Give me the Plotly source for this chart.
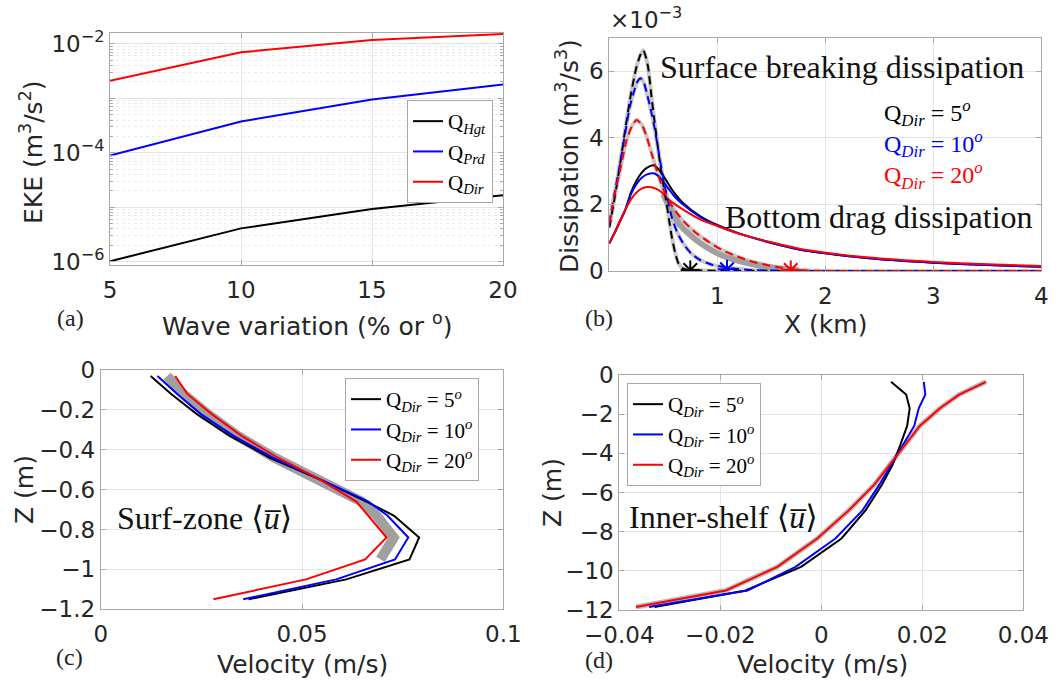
import plotly.graph_objects as go

W, H = 1060, 681

# ---------------- (a) EKE vs wave variation ----------------
wave_var = [5, 10, 15, 20]
eke_hgt = [1.02e-6, 4.1e-6, 9.3e-6, 1.66e-5]
eke_prd = [8.9e-5, 3.76e-4, 9.5e-4, 1.8e-3]
eke_dir = [2.1e-3, 7.0e-3, 1.18e-2, 1.52e-2]

# ---------------- (b) dissipation across shore (units of 1e-3 m^3/s^3) ----------------
# surface breaking dissipation (dashed)
xb_brk5 = [0, 0.05, 0.1, 0.15, 0.2, 0.25, 0.29, 0.315, 0.34, 0.36, 0.39, 0.42, 0.47, 0.5,
           0.53, 0.56, 0.58, 0.61, 0.64, 0.68, 0.72, 0.8, 1.0, 2.0, 3.0, 4.0]
db_brk5 = [1.3, 2.2, 3.2, 4.3, 5.3, 6.1, 6.5, 6.62, 6.4, 6.1, 5.25, 4.45, 3.23, 2.6,
           2.03, 1.4, 1.0, 0.55, 0.23, 0.08, 0.04, 0.02, 0.01, 0.0, 0.0, 0.0]
xb_brk10 = [0, 0.05, 0.1, 0.15, 0.19, 0.23, 0.26, 0.29, 0.32, 0.35, 0.38, 0.41, 0.44, 0.485,
            0.53, 0.58, 0.63, 0.69, 0.76, 0.84, 0.95, 1.09, 1.3, 1.6, 2.0, 3.0, 4.0]
db_brk10 = [1.43, 2.35, 3.23, 4.2, 4.93, 5.4, 5.68, 5.78, 5.65, 5.3, 4.9, 4.45, 3.9, 3.03,
            2.3, 1.6, 1.15, 0.8, 0.52, 0.33, 0.19, 0.1, 0.03, 0.01, 0.0, 0.0, 0.0]
xb_brk20 = [0, 0.05, 0.1, 0.16, 0.21, 0.253, 0.3, 0.346, 0.39, 0.438, 0.48, 0.531, 0.6, 0.685,
            0.8, 0.93, 1.05, 1.15, 1.3, 1.43, 1.55, 1.7, 1.9, 2.2, 3.0, 4.0]
db_brk20 = [1.43, 2.3, 3.03, 3.93, 4.35, 4.53, 4.4, 4.03, 3.55, 3.03, 2.62, 2.23, 1.85, 1.5,
            1.15, 0.85, 0.62, 0.48, 0.3, 0.2, 0.12, 0.05, 0.01, 0.0, 0.0, 0.0]
# spread of the breaking dissipation for the 20 deg case
xb_spread = [0.5, 0.55, 0.65, 0.75, 0.85, 0.95, 1.05, 1.15, 1.3, 1.45, 1.6, 1.75]
db_spread = [2.3, 1.95, 1.4, 1.08, 0.82, 0.62, 0.46, 0.35, 0.22, 0.13, 0.07, 0.03]

# bottom drag dissipation (solid)
xb_drag = [0, 0.05, 0.1, 0.15, 0.2, 0.25, 0.3, 0.35, 0.41, 0.47, 0.53, 0.6, 0.68, 0.84,
           1.0, 1.2, 1.5, 1.77, 2.0, 2.38, 3.0, 3.5, 4.0]
db_drag5 = [0.83, 1.15, 1.5, 1.85, 2.35, 2.7, 2.95, 3.1, 3.17, 3.0, 2.7, 2.35, 2.05, 1.65,
            1.38, 1.13, 0.85, 0.64, 0.53, 0.39, 0.25, 0.18, 0.13]
db_drag10 = [0.83, 1.15, 1.5, 1.85, 2.3, 2.6, 2.8, 2.9, 2.93, 2.8, 2.55, 2.25, 2.0, 1.62,
             1.36, 1.12, 0.84, 0.64, 0.53, 0.39, 0.25, 0.18, 0.13]
db_drag20 = [0.83, 1.15, 1.5, 1.85, 2.15, 2.35, 2.47, 2.52, 2.5, 2.4, 2.2, 2.02, 1.85, 1.55,
             1.35, 1.12, 0.86, 0.66, 0.55, 0.41, 0.27, 0.2, 0.15]

# edge of the surf zone for each case
xb_edge = [0.75, 1.09, 1.68]
db_edge = [0.03, 0.05, 0.03]

# ---------------- (c) surf-zone mean velocity profiles ----------------
zc = [-0.03, -0.12, -0.22, -0.33, -0.44, -0.55, -0.66, -0.73, -0.84, -0.95, -1.05, -1.15]
uc_5 = [0.0124, 0.0175, 0.0238, 0.0320, 0.0420, 0.0545, 0.0660, 0.0728, 0.0791, 0.0767, 0.0610, 0.0367]
uc_10 = [0.0141, 0.0190, 0.0248, 0.0330, 0.0428, 0.0548, 0.0665, 0.0712, 0.0764, 0.0731, 0.0585, 0.0354]
uc_20 = [0.0185, 0.0215, 0.0275, 0.0350, 0.0440, 0.0545, 0.0635, 0.0665, 0.0710, 0.0657, 0.0510, 0.0280]
zc_spread = [-0.03, -0.12, -0.22, -0.33, -0.44, -0.55, -0.66, -0.73, -0.84, -0.95]
uc_spread = [0.0165, 0.0205, 0.0265, 0.0340, 0.0432, 0.0545, 0.0648, 0.0685, 0.0728, 0.0695]

# ---------------- (d) inner-shelf mean velocity profiles ----------------
zd = [-0.35, -1.0, -1.7, -2.6, -3.6, -4.6, -5.6, -6.9, -8.35, -9.8, -11.0, -11.85]
ud_5 = [0.0138, 0.0168, 0.0175, 0.0170, 0.0156, 0.0141, 0.0120, 0.0088, 0.0040, -0.0040, -0.0150, -0.0330]
ud_10 = [0.0203, 0.0206, 0.0193, 0.0184, 0.0161, 0.0138, 0.0115, 0.0082, 0.0028, -0.0051, -0.0146, -0.0341]
ud_20 = [0.0326, 0.0273, 0.0235, 0.0195, 0.0165, 0.0135, 0.0105, 0.0055, -0.0008, -0.0087, -0.0189, -0.0367]

BLACK, BLUE, RED, GRAY = "#000000", "#0000ff", "#ff0000", "#a0a0a0"
SANS = "DejaVu Sans"
SERIF = "Liberation Serif, DejaVu Serif, serif"
DIR_NAMES = ["Q<sub><i>Dir</i></sub> = 5<sup><i>o</i></sup>",
             "Q<sub><i>Dir</i></sub> = 10<sup><i>o</i></sup>",
             "Q<sub><i>Dir</i></sub> = 20<sup><i>o</i></sup>"]

fig = go.Figure()

# (a)
for name, vals, col in [("Q<sub><i>Hgt</i></sub>", eke_hgt, BLACK),
                        ("Q<sub><i>Prd</i></sub>", eke_prd, BLUE),
                        ("Q<sub><i>Dir</i></sub>", eke_dir, RED)]:
    fig.add_trace(go.Scatter(x=wave_var, y=vals, mode="lines", name=name,
                             line=dict(color=col, width=2), xaxis="x", yaxis="y",
                             legend="legend"))

# (b) grey underlays
for xs, ys in [(xb_brk5, db_brk5), (xb_brk10, db_brk10), (xb_brk20, db_brk20)]:
    fig.add_trace(go.Scatter(x=xs, y=ys, mode="lines", showlegend=False, hoverinfo="skip",
                             line=dict(color="#c8c8c8", width=4, shape="spline", smoothing=0.6),
                             xaxis="x2", yaxis="y2"))
fig.add_trace(go.Scatter(x=xb_spread, y=db_spread, mode="lines", showlegend=False, hoverinfo="skip",
                         line=dict(color=GRAY, width=6, shape="spline", smoothing=0.6),
                         xaxis="x2", yaxis="y2"))
# (b) bottom drag
for ys, col in [(db_drag5, BLACK), (db_drag10, BLUE), (db_drag20, RED)]:
    fig.add_trace(go.Scatter(x=xb_drag, y=ys, mode="lines", showlegend=False,
                             line=dict(color=col, width=2, shape="spline", smoothing=0.6),
                             xaxis="x2", yaxis="y2"))
# (b) surface breaking
for xs, ys, col in [(xb_brk5, db_brk5, BLACK), (xb_brk10, db_brk10, BLUE), (xb_brk20, db_brk20, RED)]:
    fig.add_trace(go.Scatter(x=xs, y=ys, mode="lines", showlegend=False,
                             line=dict(color=col, width=2, dash="8px,5px", shape="spline", smoothing=0.6),
                             xaxis="x2", yaxis="y2"))
for xe, de, col in zip(xb_edge, db_edge, [BLACK, BLUE, RED]):
    fig.add_trace(go.Scatter(x=[xe], y=[de], mode="markers", showlegend=False,
                             marker=dict(symbol="asterisk-open", size=16, color=col,
                                         line=dict(color=col, width=2)),
                             xaxis="x2", yaxis="y2"))

# (c)
fig.add_trace(go.Scatter(x=uc_spread, y=zc_spread, mode="lines", showlegend=False, hoverinfo="skip",
                         line=dict(color=GRAY, width=10), xaxis="x3", yaxis="y3"))
for name, us, col in zip(DIR_NAMES, [uc_5, uc_10, uc_20], [BLACK, BLUE, RED]):
    fig.add_trace(go.Scatter(x=us, y=zc, mode="lines", name=name,
                             line=dict(color=col, width=2), xaxis="x3", yaxis="y3",
                             legend="legend2"))

# (d)
fig.add_trace(go.Scatter(x=ud_20, y=zd, mode="lines", showlegend=False, hoverinfo="skip",
                         line=dict(color="#b8b8b8", width=5), xaxis="x4", yaxis="y4"))
for name, us, col in zip(DIR_NAMES, [ud_5, ud_10, ud_20], [BLACK, BLUE, RED]):
    fig.add_trace(go.Scatter(x=us, y=zd, mode="lines", name=name,
                             line=dict(color=col, width=2), xaxis="x4", yaxis="y4",
                             legend="legend3"))


def px_x(p):
    return p / W


def px_y(p):
    return 1 - p / H


def axis(domain, anchor, **kw):
    base = dict(domain=domain, anchor=anchor, automargin=False,
                showline=True, linecolor="#a8a8a8", linewidth=1,
                mirror="ticks", ticks="inside", ticklen=5, tickcolor="#a8a8a8",
                showgrid=True, gridcolor="#e4e4e4", gridwidth=1, zeroline=False,
                tickfont=dict(family=SANS, size=23, color="#262626"))
    base.update(kw)
    return base


def minus(v, fmt):
    s = fmt.format(v)
    return s.replace("-", "\u2212")


LEG = dict(xanchor="left", yanchor="top", bgcolor="white", bordercolor="#a8a8a8", borderwidth=1,
           font=dict(family=SERIF, size=21, color="#000000"), itemwidth=30, tracegroupgap=0)

layout = dict(
    width=W, height=H, margin=dict(l=0, r=0, t=0, b=0, autoexpand=False),
    paper_bgcolor="white", plot_bgcolor="white",
    # (a)
    xaxis=axis([px_x(110), px_x(503)], "y", range=[5, 20], tickvals=[5, 10, 15, 20],
               ticklabelstandoff=4),
    yaxis=axis([px_y(265), px_y(33)], "x", type="log", range=[-6.06, -1.8],
               tickvals=[1e-6, 1e-5, 1e-4, 1e-3, 1e-2],
               ticktext=["10<sup>\u22126</sup>", "", "10<sup>\u22124</sup>", "",
                         "10<sup>\u22122</sup>"],
               minor=dict(showgrid=True, gridcolor="#ececec", griddash="dot", dtick="D1",
                          ticks="inside", ticklen=3, tickcolor="#a8a8a8")),
    # (b)
    xaxis2=axis([px_x(609.3), px_x(1041.3)], "y2", range=[0, 4], tickvals=[1, 2, 3, 4],
                ticklabelstandoff=4),
    yaxis2=axis([px_y(271), px_y(37.7)], "x2", range=[0, 7], tickvals=[0, 2, 4, 6]),
    # (c)
    xaxis3=axis([px_x(100.7), px_x(503.3)], "y3", range=[0, 0.1], tickvals=[0, 0.05, 0.1],
                ticktext=["0", "0.05", "0.1"], ticklabelstandoff=4),
    yaxis3=axis([px_y(609.3), px_y(370)], "x3", range=[-1.2, 0],
                tickvals=[-1.2, -1.0, -0.8, -0.6, -0.4, -0.2, 0],
                ticktext=[minus(v, "{:g}") for v in [-1.2, -1.0, -0.8, -0.6, -0.4, -0.2, 0]]),
    # (d)
    xaxis4=axis([px_x(619.3), px_x(1023.3)], "y4", range=[-0.04, 0.04],
                tickvals=[-0.04, -0.02, 0, 0.02, 0.04],
                ticktext=[minus(v, "{:g}") for v in [-0.04, -0.02, 0, 0.02, 0.04]],
                ticklabelstandoff=4),
    yaxis4=axis([px_y(610), px_y(375)], "x4", range=[-12, 0],
                tickvals=[-12, -10, -8, -6, -4, -2, 0],
                ticktext=[minus(v, "{:g}") for v in [-12, -10, -8, -6, -4, -2, 0]]),
    legend=dict(x=px_x(407), y=px_y(100), **LEG),
    legend2=dict(x=px_x(345), y=px_y(378), **LEG),
    legend3=dict(x=px_x(627), y=px_y(383), **LEG),
)
fig.update_layout(**layout)


def note(text, x, y, size=25, family=SANS, color="#262626", angle=0, xanchor="center"):
    fig.add_annotation(text=text, x=px_x(x), y=px_y(y), xref="paper", yref="paper",
                       showarrow=False, xanchor=xanchor, yanchor="middle", textangle=angle,
                       font=dict(family=family, size=size, color=color))


# axis titles
note("Wave variation (% or <sup>o</sup>)", 307, 325)
note("EKE (m<sup>3</sup>/s<sup>2</sup>)", 32, 152, angle=-90)
note("X (km)", 825, 325)
note("Dissipation (m<sup>3</sup>/s<sup>3</sup>)", 567, 156, angle=-90)
note("Velocity (m/s)", 302, 664)
note("Z (m)", 24, 490, angle=-90)
note("Velocity (m/s)", 822, 664)
note("Z (m)", 552, 493, angle=-90)
note("\u00d710<sup>\u22123</sup>", 608, 18, size=23, xanchor="left")

# panel tags
for tag, x, y in [("(a)", 70, 318), ("(b)", 599, 318), ("(c)", 69, 657), ("(d)", 599, 660)]:
    note(tag, x, y, size=24, family=SERIF, color="#222222")

# in-panel text
note("Surface breaking dissipation", 658, 67, size=32, family=SERIF, color="#111111", xanchor="left")
note("Bottom drag dissipation", 723, 217, size=32, family=SERIF, color="#111111", xanchor="left")
# case labels for the dissipation panel, stacked in one block
fig.add_annotation(
    text="<br>".join(f"<span style='color:{c}'>{n}</span>"
                     for n, c in zip(DIR_NAMES, [BLACK, BLUE, RED])),
    x=px_x(882), y=px_y(94), xref="paper", yref="paper", showarrow=False,
    xanchor="left", yanchor="top", align="left",
    font=dict(family=SERIF, size=24, color=BLACK))
note("Surf-zone \u27e8<i>u\u0305</i>\u27e9", 115, 518, size=32, family=SERIF, color="#111111",
     xanchor="left")
note("Inner-shelf \u27e8<i>u\u0305</i>\u27e9", 627, 517, size=32, family=SERIF, color="#111111",
     xanchor="left")

fig.write_html("out.html")
